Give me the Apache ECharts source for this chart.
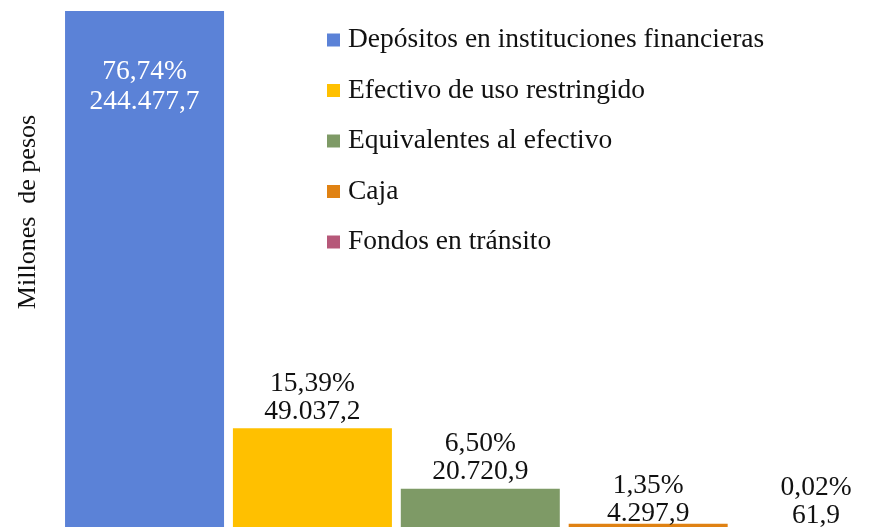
<!DOCTYPE html>
<html>
<head>
<meta charset="utf-8">
<script src="https://cdn.jsdelivr.net/npm/echarts@6/dist/echarts.min.js"></script>
<style>
    html, body { margin: 0; padding: 0; overflow: hidden; background: #fff; }
    #chart { width: 900px; height: 533px; }
</style>
</head>
<body>
<div id="chart"></div>
<script>
    // categorias y valores (millones de pesos)
    const categories = [
        'Depósitos en instituciones financieras',
        'Efectivo de uso restringido',
        'Equivalentes al efectivo',
        'Caja',
        'Fondos en tránsito',
    ]
    const values = [244477.7, 49037.2, 20720.9, 4297.9, 61.9]
    const percents = [76.74, 15.39, 6.5, 1.35, 0.02]
    const colors = ['#5B82D7', '#FFC000', '#7E9A66', '#E08213', '#B65879']

    const serif = '"Liberation Serif", "DejaVu Serif", serif'

    function fmtNum(v) {
        let parts = v.toFixed(1).split('.')
        let ent = parts[0].replace(/\B(?=(\d{3})+(?!\d))/g, '.')
        return ent + ',' + parts[1]
    }
    function fmtPct(p) {
        return p.toFixed(2).replace('.', ',') + '%'
    }

    let series = categories.map((name, i) => {
        let label = {
            show: true,
            position: 'top',
            distance: 3,
            fontFamily: serif,
            fontSize: 27.5,
            lineHeight: 28,
            color: '#111',
            formatter: () => fmtPct(percents[i]) + '\n' + fmtNum(values[i]),
        }
        if (i === 0) {
            label.position = 'insideTop'
            label.distance = 46
            label.lineHeight = 30
            label.color = '#fff'
        }
        if (i === 3) {
            label.distance = -4
        }
        return {
            type: 'bar',
            name: name,
            stack: 'total',
            barWidth: 159,
            itemStyle: { color: colors[i] },
            label: label,
            data: values.map((v, j) => (j === i ? v : '-')),
        }
    })

    let option = {
        animation: false,
        grid: { left: 60.6, right: 0, top: 11, bottom: 0 },
        xAxis: { type: 'category', data: categories, show: false },
        yAxis: { type: 'value', min: 0, max: 244477.7, show: false },
        legend: {
            orient: 'vertical',
            left: 322,
            top: 21,
            icon: 'rect',
            itemWidth: 13,
            itemHeight: 13,
            itemGap: 22.5,
            textStyle: {
                fontFamily: serif,
                fontSize: 27.5,
                lineHeight: 26,
                color: '#111',
                padding: [0, 0, 0, 3],
            },
            data: categories,
        },
        graphic: [
            {
                type: 'text',
                x: 28,
                y: 212,
                rotation: Math.PI / 2,
                style: {
                    text: 'Millones  de pesos',
                    fontFamily: serif,
                    fontSize: 26,
                    fill: '#111',
                    align: 'center',
                    verticalAlign: 'middle',
                },
            },
        ],
        series: series,
    }

    let myChart = echarts.init(document.getElementById('chart'))
    myChart.setOption(option)
</script>
</body>
</html>
